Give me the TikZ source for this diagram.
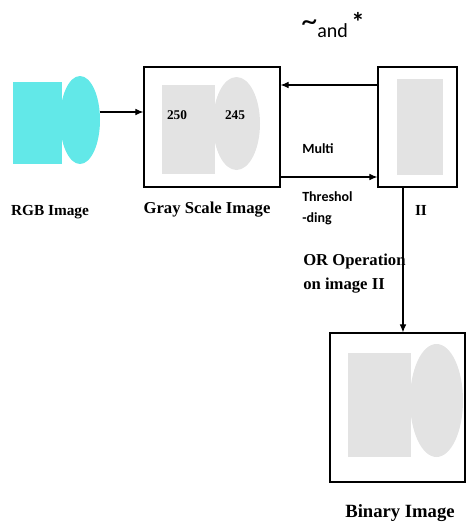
\documentclass[tikz,border=0pt]{standalone}
\usepackage{fontspec}
\setmainfont{Liberation Serif}
\newfontfamily\cfont{Carlito}
\usetikzlibrary{arrows.meta,shapes.geometric}
\definecolor{rgbcyan}{RGB}{98,232,232}
\definecolor{pixgray}{RGB}{227,227,227}

\begin{document}
\begin{tikzpicture}[x=0.75pt, y=-0.75pt,
  frame/.style={draw, line width=0.9pt, minimum width=#1, minimum height=90pt, inner sep=0pt},
  blk/.style={fill=#1, inner sep=0pt},
  oval/.style={ellipse, fill=#1, inner sep=0pt},
  imgcap/.style={font=\bfseries\fontsize{11.5}{13}\selectfont},
  note/.style={font=\cfont\bfseries\fontsize{10.5}{16}\selectfont, align=left, anchor=west, inner sep=0pt},
  arr/.style={-{Latex[length=6pt,width=5pt]}, line width=0.8pt},
]
  \useasboundingbox (0,0) rectangle (466,526);
  % RGB image
  \node[blk=rgbcyan, minimum width=36.75pt, minimum height=61.5pt] (rgbsq) at (37.5,123) {};
  \node[oval=rgbcyan, minimum width=30pt, minimum height=66pt] (rgbell) at (80,120) {};
  \node[imgcap] (rgbcap) at (50,212) {RGB Image};
  % gray scale image
  \node[frame=102pt] (gbox) at (212,127) {};
  \node[blk=pixgray, minimum width=39.75pt, minimum height=66.75pt] (gsq) at (188.5,129.5) {};
  \node[oval=pixgray, minimum width=35.25pt, minimum height=69.75pt] (gell) at (236.5,123.5) {};
  \node[imgcap, font=\bfseries\fontsize{10}{12}\selectfont] (v250) at (177,115) {250};
  \node[imgcap, font=\bfseries\fontsize{10}{12}\selectfont] (v245) at (235,115) {245};
  \node[imgcap, font=\bfseries\fontsize{12.5}{14}\selectfont] (gcap) at (207,210) {Gray Scale Image};
  % image II
  \node[frame=59.25pt] (iibox) at (417.5,127) {};
  \node[blk=pixgray, minimum width=34.5pt, minimum height=72pt] (iisq) at (420,127) {};
  \node[imgcap] (iicap) at (421,210) {II};
  % binary image
  \node[frame=101.25pt, minimum height=111.75pt] (binbox) at (397.5,407.5) {};
  \node[blk=pixgray, minimum width=47.25pt, minimum height=78pt] (binsq) at (379.5,405) {};
  \node[oval=pixgray, minimum width=39.75pt, minimum height=84.75pt] (binell) at (436.5,400.5) {};
  \node[imgcap, font=\bfseries\fontsize{14}{16}\selectfont] (bincap) at (400,513) {Binary Image};
  % labels
  \node[font=\cfont\fontsize{15}{16}\selectfont] (ops) at (333,25)
    {\raisebox{0.3em}{\fontsize{24}{24}\selectfont\textasciitilde}and\,\raisebox{0.3em}{\fontsize{20}{20}\selectfont\bfseries*}};
  \node[note] (multi) at (302,149) {Multi};
  \node[note] (thr) at (302,208) {Threshol\\-ding};
  \node[note, font=\bfseries\fontsize{12.5}{18}\selectfont] (orop) at (303,274) {OR Operation\\on image II};
  % connectors
  \draw[arr] ([yshift=6pt]rgbell.east) -- ([yshift=6pt]rgbell.east -| gbox.west);
  \draw[arr] ([yshift=31.5pt]iibox.west) -- ([yshift=31.5pt]iibox.west -| gbox.east);
  \draw[arr] ([yshift=-37.5pt]gbox.east) -- ([yshift=-37.5pt]gbox.east -| iibox.west);
  \draw[arr] ([xshift=-10.9pt]iibox.south) -- ([xshift=-10.9pt]iibox.south |- binbox.north);
\end{tikzpicture}
\end{document}
